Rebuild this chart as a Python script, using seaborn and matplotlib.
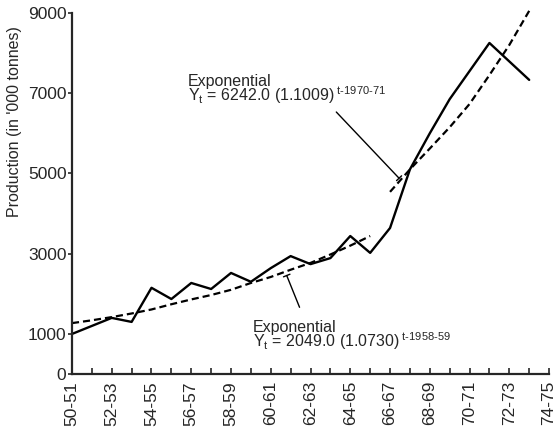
import numpy as np
import pandas as pd
import matplotlib
matplotlib.use("Agg")
import matplotlib.pyplot as plt
import seaborn as sns

# crop years, 1950-51 .. 1974-75
years = [f"{y % 100:02d}-{(y + 1) % 100:02d}" for y in range(1950, 1975)]

# actual production ('000 tonnes), 1950-51 .. 1973-74
production = [1000, 1200, 1400, 1300, 2150, 1870, 2270, 2120, 2520, 2300,
              2640, 2940, 2740, 2890, 3440, 3020, 3640, 5100, 6000, 6850,
              7550, 8250, 7790, 7330]

# fitted exponential trend, first period (1950-51 .. 1965-66)
trend_early = [1270, 1340, 1420, 1510, 1610, 1740, 1860, 1970, 2100, 2270,
               2420, 2600, 2770, 2980, 3200, 3440]

# fitted exponential trend, second period (1966-67 .. 1973-74)
trend_late = [4540, 5100, 5620, 6150, 6730, 7450, 8200, 9050]

sns.set_style("ticks")
plt.rcParams["font.family"] = ["Liberation Sans", "DejaVu Sans"]
plt.rcParams["mathtext.fontset"] = "custom"
plt.rcParams["mathtext.rm"] = "Liberation Sans"
plt.rcParams["mathtext.it"] = "Liberation Sans"

idx = np.arange(len(years))
df = pd.DataFrame({"t": idx[:len(production)], "production": production})
df_early = pd.DataFrame({"t": idx[:len(trend_early)], "trend": trend_early})
df_late = pd.DataFrame({"t": idx[16:16 + len(trend_late)], "trend": trend_late})

fig = plt.figure(figsize=(5.58, 4.29), dpi=100)
ax = fig.add_axes([0.129, 0.128, 0.855, 0.842])

dash = (0, (3.2, 1.8))
sns.lineplot(data=df, x="t", y="production", color="black", lw=1.7, ax=ax)
sns.lineplot(data=df_early, x="t", y="trend", color="black", lw=1.6,
             linestyle=dash, ax=ax)
sns.lineplot(data=df_late, x="t", y="trend", color="black", lw=1.6,
             linestyle=dash, ax=ax, clip_on=False)

ax.set_xlim(0, 24)
ax.set_ylim(0, 9000)
ax.set_yticks([0, 1000, 3000, 5000, 7000, 9000])
ax.set_xticks(idx)
ax.set_xticklabels([y if i % 2 == 0 else "" for i, y in enumerate(years)],
                   rotation=90, fontsize=12.5)
ax.tick_params(axis="x", direction="in", length=4, width=1.2, pad=5)
ax.tick_params(axis="y", direction="out", length=3, width=1.2, pad=1, labelsize=12.5)
for s in ["top", "right"]:
    ax.spines[s].set_visible(False)
for s in ["left", "bottom"]:
    ax.spines[s].set_linewidth(1.6)

ax.set_xlabel("")
ax.set_ylabel("Production (in '000 tonnes)", fontsize=11.5)
ax.yaxis.set_label_coords(-0.105, 0.70)

# annotations for the two fitted curves
fs = 11.5
ax.text(5.84, 7480,
        "Exponential\n"
        r"Y$_{\mathregular{t}}$ = 6242.0 (1.1009)$^{\mathregular{\ t\text{-}1970\text{-}71}}$",
        fontsize=fs, va="top", linespacing=0.72)
ax.annotate("", xy=(16.55, 4830), xytext=(13.2, 6580),
            arrowprops=dict(arrowstyle="-[, widthB=0.25, lengthB=0", color="black", lw=1))

ax.text(9.11, 1350,
        "Exponential\n"
        r"Y$_{\mathregular{t}}$ = 2049.0 (1.0730)$^{\mathregular{\ t\text{-}1958\text{-}59}}$",
        fontsize=fs, va="top", linespacing=0.72)
ax.annotate("", xy=(10.75, 2520), xytext=(11.5, 1600),
            arrowprops=dict(arrowstyle="-[, widthB=0.25, lengthB=0", color="black", lw=1))

fig.savefig("out.png", dpi=100)
